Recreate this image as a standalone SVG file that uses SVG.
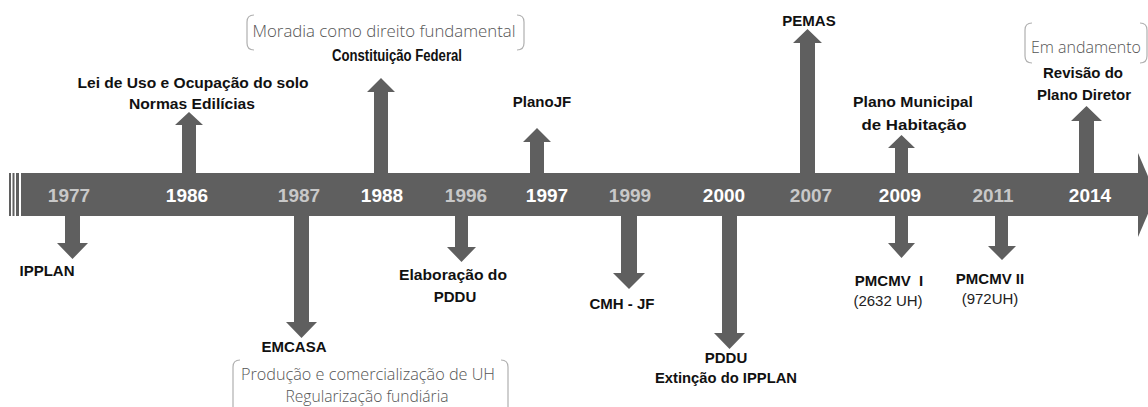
<svg xmlns="http://www.w3.org/2000/svg" width="1148" height="407" viewBox="0 0 1148 407">
<style>
.bar{fill:#5f5f5f}
.arr{fill:#5f5f5f}
.yr{font-family:"Liberation Sans",Arial,sans-serif;font-weight:bold;font-size:19px;text-anchor:middle}
.yw{fill:#ffffff}
.yg{fill:#c8c8c8}
.lb{font-family:"Liberation Sans",Arial,sans-serif;font-weight:bold;font-size:15px;fill:#111;text-anchor:middle}
.rg{font-family:"Liberation Sans",Arial,sans-serif;font-size:15px;fill:#222;text-anchor:middle}
.nt{font-family:"Open Sans","Liberation Sans",sans-serif;font-weight:300;font-size:16px;fill:#555;text-anchor:middle}
.br{fill:none;stroke:#b0b0b0;stroke-width:1.2}
</style>
<rect width="1148" height="407" fill="#ffffff"/>
<g id="timeline">
<rect class="bar" x="9" y="173" width="2" height="43"/>
<rect class="bar" x="12.5" y="173" width="2" height="43"/>
<rect class="bar" x="16" y="173" width="3" height="43"/>
<rect class="bar" x="21" y="173" width="1118" height="43"/>
<polygon class="bar" points="1138,153 1156,195 1138,237"/>
</g>
<g id="connectors">
<polygon class="arr" points="182,175 182,125 175,125 189,112 203,125 196,125 196,175"/>
<polygon class="arr" points="374,175 374,92 367,92 381,78 395,92 388,92 388,175"/>
<polygon class="arr" points="530,175 530,142 523,142 537,128 551,142 544,142 544,175"/>
<polygon class="arr" points="800,175 800,43 793,43 807.5,29 822,43 815,43 815,175"/>
<polygon class="arr" points="895,175 895,148 888,148 901.5,135 915,148 908,148 908,175"/>
<polygon class="arr" points="1079,175 1079,121 1071,121 1086.5,106 1102,121 1094,121 1094,175"/>
<polygon class="arr" points="65,214 65,243 57,243 72.5,259 88,243 80,243 80,214"/>
<polygon class="arr" points="294,214 294,322 286,322 301.5,338 317,322 309,322 309,214"/>
<polygon class="arr" points="455,214 455,247 447,247 461.5,262 476,247 468,247 468,214"/>
<polygon class="arr" points="621,214 621,273 613,273 629,289 645,273 637,273 637,214"/>
<polygon class="arr" points="722,214 722,333 714,333 729.5,349 745,333 737,333 737,214"/>
<polygon class="arr" points="895,214 895,243 888,243 901.5,258 915,243 908,243 908,214"/>
<polygon class="arr" points="995,214 995,246 988,246 1002,260 1016,246 1008,246 1008,214"/>
</g>
<g id="years">
<text class="yr yg" x="69" y="202">1977</text>
<text class="yr yw" x="187" y="202">1986</text>
<text class="yr yg" x="299" y="202">1987</text>
<text class="yr yw" x="382" y="202">1988</text>
<text class="yr yg" x="466" y="202">1996</text>
<text class="yr yw" x="547" y="202">1997</text>
<text class="yr yg" x="630" y="202">1999</text>
<text class="yr yw" x="724" y="202">2000</text>
<text class="yr yg" x="811" y="202">2007</text>
<text class="yr yw" x="900" y="202">2009</text>
<text class="yr yg" x="993" y="202">2011</text>
<text class="yr yw" x="1090" y="202">2014</text>
</g>
<g id="n1977">
<text class="lb" x="47" y="276">IPPLAN</text>
</g>
<g id="n1986">
<text class="lb" x="193" y="88" textLength="231" lengthAdjust="spacingAndGlyphs">Lei de Uso e Ocupação do solo</text>
<text class="lb" x="192" y="109" textLength="126" lengthAdjust="spacingAndGlyphs">Normas Edilícias</text>
</g>
<g id="n1987">
<text class="lb" x="294" y="352">EMCASA</text>
<path class="br" d="M240,360 Q233,360 233,367 L233,407"/>
<path class="br" d="M501,360 Q508,360 508,367 L508,407"/>
<text class="nt" x="368" y="380" textLength="254" lengthAdjust="spacingAndGlyphs">Produção e comercialização de UH</text>
<text class="nt" x="367" y="402" textLength="163" lengthAdjust="spacingAndGlyphs">Regularização fundiária</text>
</g>
<g id="n1988">
<path class="br" d="M254,15 Q247,15 247,22 L247,43 Q247,50 254,50"/>
<path class="br" d="M517,15 Q524,15 524,22 L524,43 Q524,50 517,50"/>
<text class="nt" x="384" y="37" textLength="263" lengthAdjust="spacingAndGlyphs">Moradia como direito fundamental</text>
<text class="lb" x="397" y="61" style="font-size:16px" textLength="130" lengthAdjust="spacingAndGlyphs">Constituição Federal</text>
</g>
<g id="n1996">
<text class="lb" x="453" y="280" textLength="108" lengthAdjust="spacingAndGlyphs">Elaboração do</text>
<text class="lb" x="455" y="302">PDDU</text>
</g>
<g id="n1997">
<text class="lb" x="542" y="107">PlanoJF</text>
</g>
<g id="n1999">
<text class="lb" x="622" y="309">CMH - JF</text>
</g>
<g id="n2000">
<text class="lb" x="726" y="363">PDDU</text>
<text class="lb" x="726" y="383" textLength="142" lengthAdjust="spacingAndGlyphs">Extinção do IPPLAN</text>
</g>
<g id="n2007">
<text class="lb" x="809" y="26">PEMAS</text>
</g>
<g id="n2009">
<text class="lb" x="913" y="107" textLength="120" lengthAdjust="spacingAndGlyphs">Plano Municipal</text>
<text class="lb" x="914" y="130" textLength="105" lengthAdjust="spacingAndGlyphs">de Habitação</text>
<text class="lb" x="889" y="286" xml:space="preserve">PMCMV  I</text>
<text class="rg" x="888" y="306">(2632 UH)</text>
</g>
<g id="n2011">
<text class="lb" x="990" y="284">PMCMV II</text>
<text class="rg" x="990" y="304">(972UH)</text>
</g>
<g id="n2014">
<path class="br" d="M1032,23 Q1025,23 1025,30 L1025,56 Q1025,63 1032,63"/>
<path class="br" d="M1140,23 Q1147,23 1147,30 L1147,56 Q1147,63 1140,63"/>
<text class="nt" x="1086" y="53" textLength="110" lengthAdjust="spacingAndGlyphs">Em andamento</text>
<text class="lb" x="1083" y="78">Revisão do</text>
<text class="lb" x="1084" y="100">Plano Diretor</text>
</g>
</svg>
